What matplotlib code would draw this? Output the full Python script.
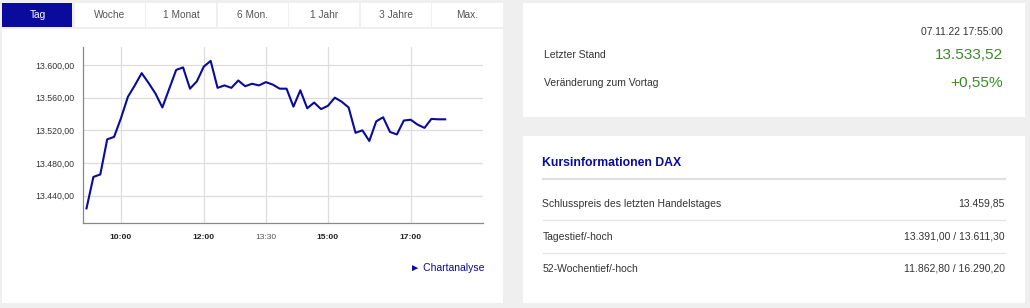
import matplotlib
matplotlib.use("Agg")
import matplotlib.pyplot as plt
from matplotlib.patches import Rectangle

plt.rcParams['font.family'] = ['Liberation Sans', 'DejaVu Sans']

# intraday DAX values, 10 minute steps
times = ["9:10", "9:20", "9:30", "9:40", "9:50",
         "10:00", "10:10", "10:20", "10:30", "10:40", "10:50",
         "11:00", "11:10", "11:20", "11:30", "11:40", "11:50",
         "12:00", "12:10", "12:20", "12:30", "12:40", "12:50",
         "13:00", "13:10", "13:20", "13:30", "13:40", "13:50",
         "14:00", "14:10", "14:20", "14:30", "14:40", "14:50",
         "15:00", "15:10", "15:20", "15:30", "15:40", "15:50",
         "16:00", "16:10", "16:20", "16:30", "16:40", "16:50",
         "17:00", "17:10", "17:20", "17:30", "17:40", "17:50"]
values = [13424.5, 13463, 13466, 13509, 13512,
          13535, 13561, 13575, 13590, 13578, 13565,
          13548, 13571, 13594, 13597, 13571, 13580,
          13598, 13605, 13572, 13575, 13572, 13581,
          13574, 13577, 13575, 13579, 13576, 13571,
          13571, 13549, 13569, 13547, 13554, 13546,
          13550, 13560, 13555, 13548, 13517, 13520,
          13507, 13531, 13536, 13518, 13515, 13532,
          13533, 13527, 13523, 13534, 13533.5, 13533.5]

tabs = ["Tag", "Woche", "1 Monat", "6 Mon.", "1 Jahr", "3 Jahre", "Max."]
xtick_labels = ["10:00", "12:00", "13:30", "15:00", "17:00"]
xtick_bold = [True, True, False, True, True]
yticks = [13440, 13480, 13520, 13560, 13600]

stamp = "07.11.22 17:55:00"
last_value = "13.533,52"
change = "+0,55%"
info_labels = ["Schlusspreis des letzten Handelstages", "Tagestief/-hoch", "52-Wochentief/-hoch"]
info_values = ["13.459,85", "13.391,00 / 13.611,30", "11.862,80 / 16.290,20"]

BLUE = "#0a0a9c"
GREEN = "#3a8c2a"
TXT = "#333333"


def to_hours(t):
    h, m = t.split(":")
    return int(h) + int(m) / 60


def de_fmt(v):
    s = f"{v:,.2f}"
    return s.replace(",", "X").replace(".", ",").replace("X", ".")


fig = plt.figure(figsize=(10.30, 3.08), dpi=100)
fig.patch.set_facecolor("#efefef")

bg = fig.add_axes([0, 0, 1, 1])
bg.set_xlim(0, 1030)
bg.set_ylim(308, 0)
bg.axis("off")

# panels
bg.add_patch(Rectangle((2, 29), 501, 274, color="white", lw=0))
bg.add_patch(Rectangle((523, 3), 502, 114, color="white", lw=0))
bg.add_patch(Rectangle((523, 136), 502, 167, color="white", lw=0))

# tabs
tab_w = 501 / len(tabs)
for i, t in enumerate(tabs):
    x0 = 2 + i * tab_w
    sel = i == 0
    bg.add_patch(Rectangle((x0 + (0 if i == 0 else 1), 3), tab_w - 1.5, 24,
                           color=BLUE if sel else "white", lw=0))
    bg.text(x0 + tab_w / 2, 15.5, t, ha="center", va="center", fontsize=7.3,
            color="white" if sel else "#555555")

# chart
ax = fig.add_axes([83 / 1030, (308 - 223) / 308, 400 / 1030, 176 / 308])
ax.set_facecolor("white")
xs = [to_hours(t) for t in times]
ax.plot(xs, values, color=BLUE, lw=1.5, zorder=3)
ax.set_xlim(9.082, 18.747)
ax.set_ylim(13406.6, 13622)
ax.set_xticks([to_hours(t) for t in xtick_labels])
ax.set_xticklabels(xtick_labels)
for lab, b in zip(ax.get_xticklabels(), xtick_bold):
    lab.set_fontweight("bold" if b else "normal")
    lab.set_color("#222222" if b else "#555555")
    lab.set_fontsize(6.1)
ax.set_yticks(yticks)
ax.set_yticklabels([de_fmt(v) for v in yticks])
for lab in ax.get_yticklabels():
    lab.set_fontsize(6.3)
    lab.set_color("#333333")
ax.tick_params(length=0, pad=6)
ax.tick_params(axis="x", pad=8)
ax.grid(True, color="#dddddd", lw=0.9)
ax.set_axisbelow(True)
for s in ["top", "right"]:
    ax.spines[s].set_visible(False)
for s in ["left", "bottom"]:
    ax.spines[s].set_color("#888888")
    ax.spines[s].set_linewidth(0.9)

bg.text(484, 268, "\u25ba Chartanalyse", ha="right", va="center", fontsize=7.5, color=BLUE)

# right top panel
bg.text(1003, 32, stamp, ha="right", va="center", fontsize=7.4, color=TXT)
bg.text(544, 55.5, "Letzter Stand", ha="left", va="center", fontsize=7.5, color=TXT)
bg.text(1003, 55, last_value, ha="right", va="center", fontsize=11.1, color=GREEN)
bg.text(544, 83.5, "Veränderung zum Vortag", ha="left", va="center", fontsize=7.5, color=TXT)
bg.text(1003, 83, change, ha="right", va="center", fontsize=11.1, color=GREEN)

# right bottom panel
bg.text(542.5, 162.5, "Kursinformationen DAX", ha="left", va="center", fontsize=8.8,
        fontweight="bold", color=BLUE)
bg.plot([542.5, 1005], [179, 179], color="#e0e0e0", lw=1.6)
row_y = [204, 236.5, 268.5]
for i, (lab, val) in enumerate(zip(info_labels, info_values)):
    bg.text(542.5, row_y[i], lab, ha="left", va="center", fontsize=7.5, color=TXT)
    bg.text(1005, row_y[i], val, ha="right", va="center", fontsize=7.5, color=TXT)
    if i < len(info_labels) - 1:
        bg.plot([542.5, 1005], [row_y[i] + 16, row_y[i] + 16], color="#e4e4e4", lw=0.9)

fig.savefig("out.png", dpi=100, facecolor=fig.get_facecolor())
